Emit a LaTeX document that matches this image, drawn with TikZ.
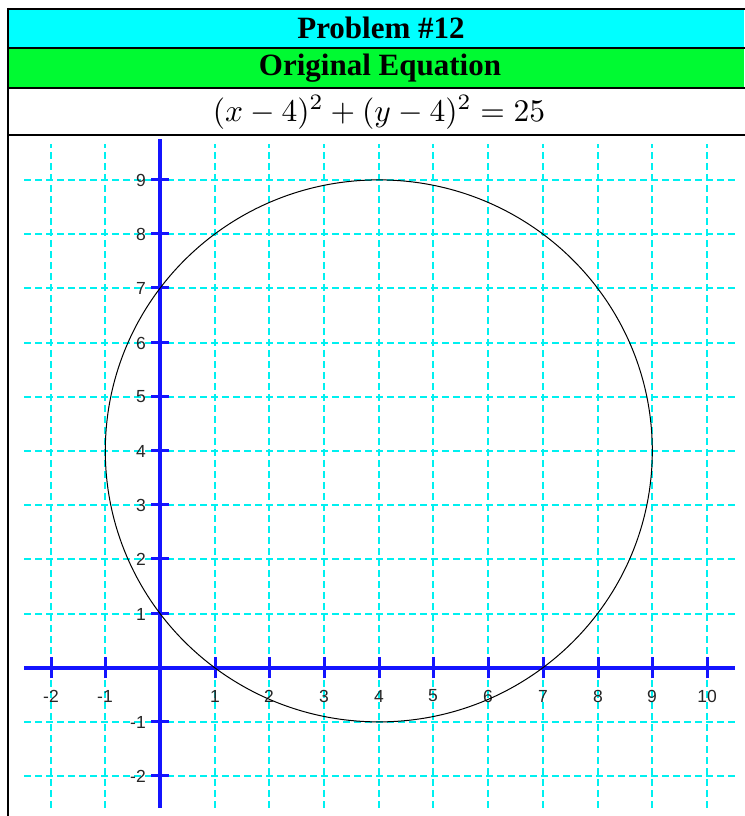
\documentclass[tikz,border=0pt]{standalone}
\usepackage{fontspec}
\usepackage{graphicx}
\newfontfamily\headfont{Liberation Serif}
\newfontfamily\tickfont{Liberation Sans}
\definecolor{hdcyan}{RGB}{0,255,255}
\definecolor{hdgreen}{RGB}{0,250,50}
\definecolor{gridcyan}{RGB}{0,240,240}
\definecolor{axblue}{RGB}{20,20,255}
\tikzset{
  rule/.style={line width=2.3pt, black},
  headtext/.style={font=\headfont\fontsize{31}{36}\selectfont\bfseries, inner sep=0pt},
  gridline/.style={gridcyan, line width=2pt, dash pattern=on 7pt off 4pt},
  axisline/.style={axblue, line width=4pt},
  tickline/.style={axblue, line width=3pt},
  ticklabel/.style={font=\tickfont\fontsize{17.5}{20}\selectfont, inner sep=0pt, text=black!85},
  curve/.style={black, line width=1pt}
}
\begin{document}
\begin{tikzpicture}[x=1pt,y=1pt]
\useasboundingbox (0,0) rectangle (744,816);
% header fills
\fill[hdcyan] (8,807) rectangle (744,768);
\fill[hdgreen] (8,768) rectangle (744,728);
% rules
\draw[rule] (8,807) -- (746,807);
\draw[rule] (8,768) -- (746,768);
\draw[rule] (8,728) -- (746,728);
\draw[rule] (8,681) -- (746,681);
\draw[rule] (8,808.1) -- (8,-2);
% header texts
\node[headtext] (title) at (381,788) {Problem \#12};
\node[headtext] (sub) at (380,748) {Original Equation};
\node[inner sep=0pt] (eq) at (379,703.5) {\scalebox{3.15}{$(x-4)^2+(y-4)^2=25$}};
% graph (pixel-snapped grid)
\foreach \j in {-2,...,9} {
  \pgfmathsetmacro\gy{816-round(667.7-\j*54.2)}
  \draw[gridline] (24,\gy) -- (735,\gy);
}
\foreach \i in {-2,...,10} {
  \pgfmathsetmacro\gx{round(160+\i*54.7)}
  \draw[gridline] (\gx,8) -- (\gx,672);
}
\draw[axisline] (24,148) -- (735,148);
\draw[axisline] (160,8) -- (160,677);
\foreach \i in {-2,-1,1,2,3,4,5,6,7,8,9,10} {
  \pgfmathsetmacro\gx{round(160+\i*54.7)}
  \draw[tickline] (\gx,137.5) -- (\gx,158.5);
  \node[ticklabel] (xl\i) at (\gx,120) {\i};
}
\foreach \j in {-2,-1,1,2,3,4,5,6,7,8,9} {
  \pgfmathsetmacro\gy{816-round(667.7-\j*54.2)}
  \draw[tickline] (151,\gy) -- (169,\gy);
  \node[ticklabel, anchor=east] (yl\j) at (146,\gy) {\j};
}
\coordinate (ctr) at (378.8,148.3+216.8);
\draw[curve] (ctr) ellipse [x radius=273.5, y radius=271];
\end{tikzpicture}
\end{document}
